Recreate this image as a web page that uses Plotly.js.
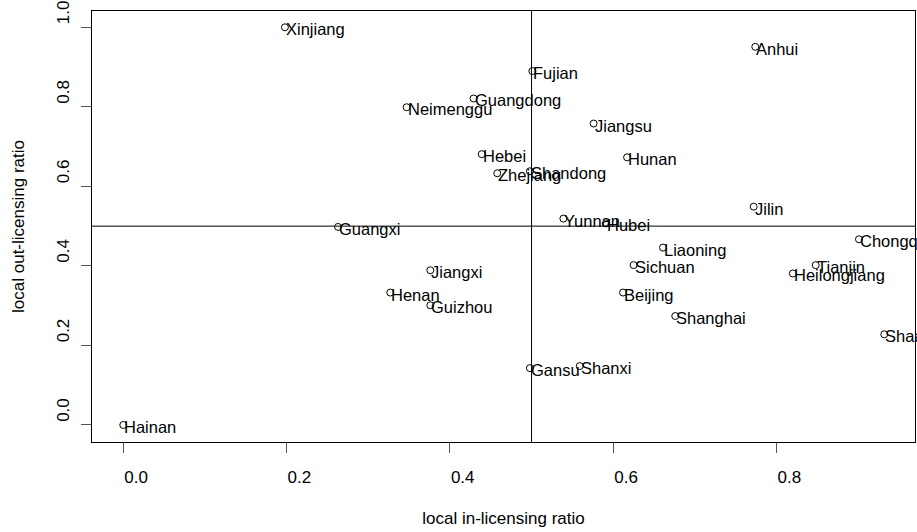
<!DOCTYPE html>
<html>
<head>
<meta charset="utf-8">
<script src="https://cdn.plot.ly/plotly-3.0.1.min.js"></script>
<style>html,body{margin:0;padding:0;background:#fff;}#chart{width:917px;height:532px;}</style>
</head>
<body>
<div id="chart"></div>
<script>
const provinces = ["Xinjiang","Neimenggu","Guangxi","Anhui","Fujian","Guangdong","Jiangsu","Hebei","Zhejiang","Shandong","Hunan","Jilin","Yunnan","Hubei","Chongqing","Liaoning","Jiangxi","Henan","Guizhou","Hainan","Sichuan","Tianjin","Heilongjiang","Beijing","Shanghai","Shaanxi","Gansu","Shanxi"];
const inLicensing  = [0.198,0.347,0.263,0.774,0.501,0.429,0.576,0.439,0.458,0.498,0.617,0.772,0.539,0.591,0.901,0.661,0.376,0.327,0.376,0.000,0.625,0.848,0.820,0.612,0.676,0.932,0.498,0.559];
const outLicensing = [1.000,0.799,0.498,0.951,0.890,0.821,0.758,0.681,0.633,0.638,0.673,0.549,0.519,0.507,0.467,0.446,0.389,0.333,0.301,0.000,0.402,0.402,0.381,0.333,0.274,0.228,0.143,0.148];
const refX = 0.5;
const refY = 0.5;
const xTicks = [0.0,0.2,0.4,0.6,0.8];
const yTicks = [0.0,0.2,0.4,0.6,0.8,1.0];

const FONT = "Liberation Sans, Arial, Helvetica, sans-serif";

const trace = {
  x: inLicensing, y: outLicensing, type: 'scatter', mode: 'markers',
  marker: {symbol: 'circle-open', size: 7, color: '#000', line: {width: 1, color: '#000'}},
  hoverinfo: 'skip', showlegend: false
};

const annotations = provinces.map((p, i) => ({
  x: inLicensing[i], y: outLicensing[i], text: p, xref: 'x', yref: 'y',
  showarrow: false, xanchor: 'left', yanchor: 'middle', xshift: -1, yshift: -2,
  font: {family: FONT, size: 16.5, color: '#000'}
}));

const layout = {
  width: 917, height: 532,
  margin: {l: 92, r: 2, t: 11, b: 90},
  paper_bgcolor: '#fff', plot_bgcolor: '#fff',
  font: {family: FONT, size: 17, color: '#000'},
  xaxis: {
    range: [-0.0383, 0.9696], showgrid: false, zeroline: false,
    tickvals: xTicks, ticktext: xTicks.map(v => v.toFixed(1)),
    ticks: 'outside', ticklen: 10, tickcolor: '#555', tickwidth: 1,
    ticklabelposition: 'outside right', ticklabelstandoff: 20,
    showline: true, linecolor: '#000', linewidth: 1, mirror: true,
    title: {text: 'local in-licensing ratio', standoff: 25, font: {size: 17}}
  },
  yaxis: {
    range: [-0.0428, 1.041], showgrid: false, zeroline: false,
    tickvals: yTicks, ticktext: yTicks.map(v => v.toFixed(1)),
    ticks: 'outside', ticklen: 10, tickcolor: '#555', tickwidth: 1,
    tickangle: -90, ticklabelposition: 'outside top', ticklabelstandoff: 15,
    showline: true, linecolor: '#000', linewidth: 1, mirror: true,
    title: {text: 'local out-licensing ratio', standoff: 25, font: {size: 17}}
  },
  shapes: [
    {type: 'line', xref: 'x', yref: 'paper', x0: refX, x1: refX, y0: 0, y1: 1, line: {color: '#000', width: 1}},
    {type: 'line', xref: 'paper', yref: 'y', x0: 0, x1: 1, y0: refY, y1: refY, line: {color: '#000', width: 1}}
  ],
  annotations: annotations
};

Plotly.newPlot('chart', [trace], layout, {displayModeBar: false, staticPlot: true});
</script>
</body>
</html>
